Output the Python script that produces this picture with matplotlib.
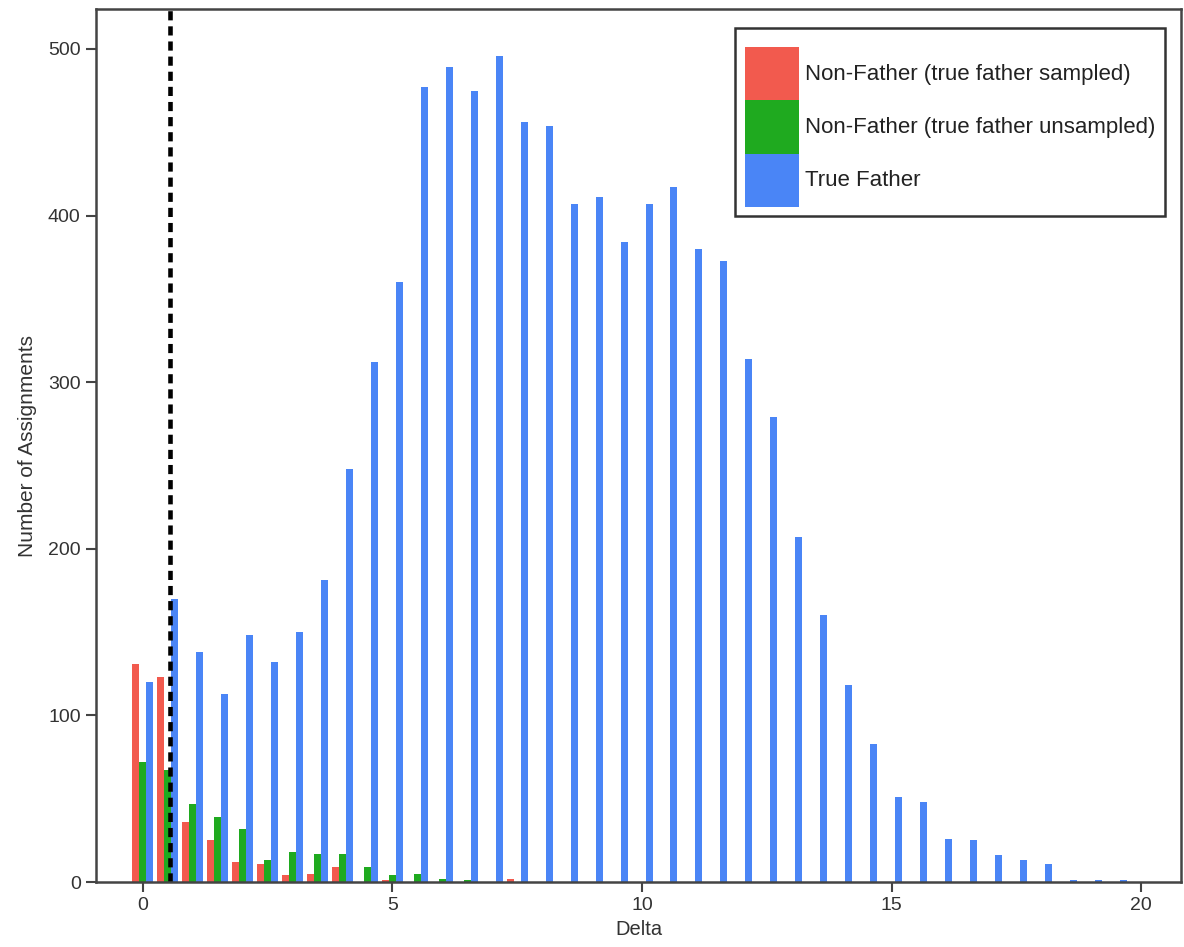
import numpy as np
import matplotlib
matplotlib.use("Agg")
import matplotlib.pyplot as plt
from matplotlib.patches import Patch

plt.rcParams['font.family'] = ['Liberation Sans', 'DejaVu Sans']

# bin centres (Delta), step 0.5
delta = np.arange(0, 20.0, 0.5)

# counts
true_father = [120, 170, 138, 113, 148, 132, 150, 181, 248, 312,
               360, 477, 489, 475, 496, 456, 454, 407, 411, 384,
               407, 417, 380, 373, 314, 279, 207, 160, 118, 83,
               51, 48, 26, 25, 16, 13, 11, 1, 1, 1]
nf_sampled = [131, 123, 36, 25, 12, 11, 4, 5, 9, 0,
              1, 0, 0, 0, 0, 2, 0, 0, 0, 0,
              0, 0, 0, 0, 0, 0, 0, 0, 0, 0,
              0, 0, 0, 0, 0, 0, 0, 0, 0, 0]
nf_unsampled = [72, 67, 47, 39, 32, 13, 18, 17, 17, 9,
                4, 5, 2, 1, 0, 0, 0, 0, 0, 0,
                0, 0, 0, 0, 0, 0, 0, 0, 0, 0,
                0, 0, 0, 0, 0, 0, 0, 0, 0, 0]

labels = ["Non-Father (true father sampled)",
          "Non-Father (true father unsampled)",
          "True Father"]
colors = ["#F25A4E", "#1FAA1F", "#4A85F6"]
cutoff = 0.54

fig = plt.figure(figsize=(11.84, 9.47), dpi=100)
ax = fig.add_axes([0.0811, 0.0686, 0.9164, 0.9219])

w = 0.14
ax.bar(delta - w, nf_sampled, width=w, color=colors[0], linewidth=0)
ax.bar(delta, nf_unsampled, width=w, color=colors[1], linewidth=0)
ax.bar(delta + w, true_father, width=w, color=colors[2], linewidth=0)

ax.axvline(cutoff, color='black', linestyle=(0, (2.0, 1.3)), linewidth=3.3)

ax.set_xlim(-0.94, 20.8)
ax.set_ylim(0, 524)
ax.set_xticks([0, 5, 10, 15, 20])
ax.set_yticks([0, 100, 200, 300, 400, 500])

for s in ax.spines.values():
    s.set_color('#444444')
    s.set_linewidth(1.8)
ax.tick_params(direction='out', length=7, width=1.5, color='#444444',
               labelsize=14, labelcolor='#333333', pad=4)
ax.set_xlabel("Delta", fontsize=14.5, color='#333333', labelpad=4)
ax.set_ylabel("Number of Assignments", fontsize=15, color='#333333', labelpad=8)

handles = [Patch(facecolor=c, edgecolor='none') for c in colors]
leg = ax.legend(handles, labels, loc='upper right',
                bbox_to_anchor=(1165 / 1184, 1 - 28 / 947),
                bbox_transform=fig.transFigure, borderaxespad=0,
                fontsize=16, handlelength=2.45, handleheight=3.3,
                labelspacing=0, handletextpad=0.28, borderpad=0.42,
                title=" ", title_fontsize=7,
                fancybox=False, framealpha=1)
leg.get_frame().set_edgecolor('#333333')
leg.get_frame().set_linewidth(1.8)
for t in leg.get_texts():
    t.set_color('#222222')

fig.savefig("out.png", dpi=100)
